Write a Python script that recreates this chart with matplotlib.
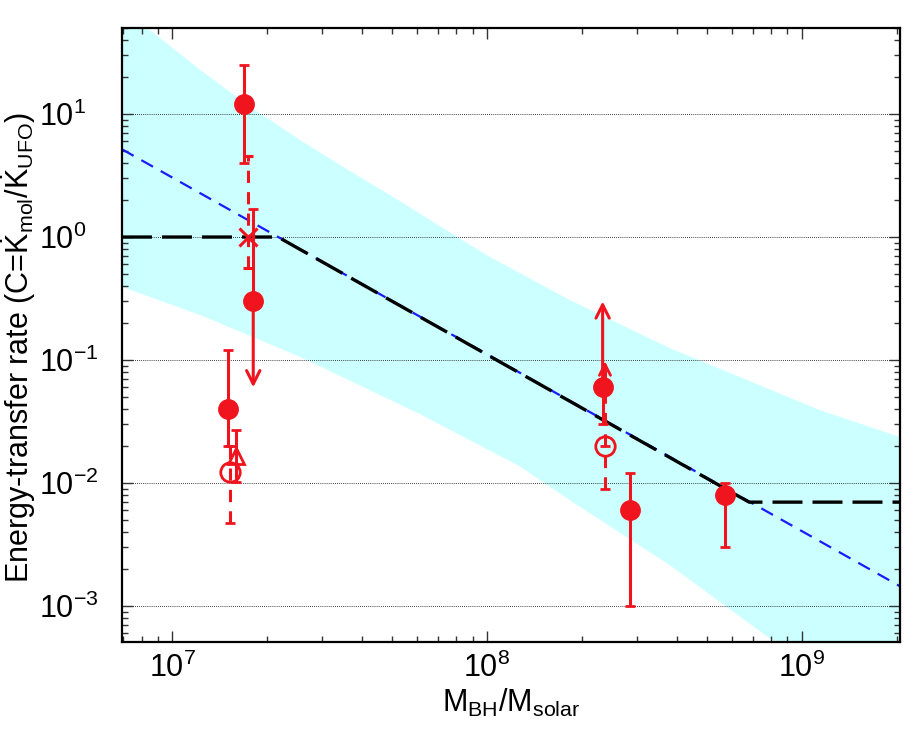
import matplotlib
matplotlib.use('Agg')
import matplotlib.pyplot as plt
from matplotlib.ticker import LogLocator, LogFormatterMathtext, NullFormatter

plt.rcParams['font.family'] = ['Liberation Sans', 'DejaVu Sans']
plt.rcParams['mathtext.fontset'] = 'custom'
plt.rcParams['mathtext.rm'] = 'Liberation Sans'
plt.rcParams['mathtext.it'] = 'Liberation Sans:italic'
plt.rcParams['mathtext.bf'] = 'Liberation Sans:bold'

RED = '#f0141e'
CYAN = '#ccffff'

# ---------------- data ----------------
# uncertainty band (upper / lower edges)
band_up_M = [6.3e6, 8.34e6, 1.23e7, 1.78e7, 2.55e7, 3.55e7, 5.0e7, 1.0e8, 1.83e8, 3.81e8, 1.14e9, 2.24e9]
band_up_C = [89.0, 50.0, 22.8, 11.3, 6.15, 3.62, 2.14, 0.71, 0.308, 0.125, 0.0392, 0.0219]
band_lo_M = [6.3e6, 1.23e7, 2.55e7, 6.12e7, 1.27e8, 1.83e8, 3.81e8, 8.2e8, 2.24e9]
band_lo_C = [0.43, 0.232, 0.106, 0.0364, 0.0137, 0.00728, 0.00215, 0.00051, 0.00005]

# power-law fit (blue) and model (black)
fit_M = [6.93e6, 2.05e9]
fit_C = [5.17, 0.00145]
model_M = [6.93e6, 2.17e7, 6.8e8, 2.05e9]
model_C = [1.0, 1.0, 0.007, 0.007]

# filled circles (solid error bars)
filled_M = [1.69e7, 1.81e7, 1.50e7, 2.33e8, 2.85e8, 5.7e8]
filled_C = [12.1, 0.30, 0.040, 0.060, 0.0060, 0.0080]
filled_lo = [4.0, 0.30, 0.020, 0.030, 0.0010, 0.0030]
filled_hi = [25.0, 1.70, 0.12, 0.060, 0.012, 0.010]

# open circles (dashed error bars)
open_M = [1.53e7, 2.37e8]
open_C = [0.0123, 0.020]
open_lo = [0.0047, 0.009]
open_hi = [0.020, 0.020]

# open triangle
tri_M = [1.60e7]
tri_C = [0.0167]
tri_lo = [0.0102]
tri_hi = [0.0268]

# cross (dashed error bar)
cross_M = [1.74e7]
cross_C = [1.0]
cross_lo = [0.56]
cross_hi = [4.6]

# limit arrows
lim_M = [1.81e7, 2.33e8, 2.37e8]
lim_from = [0.30, 0.060, 0.020]
lim_to = [0.060, 0.30, 0.098]
lim_dashed = [False, False, True]

x_ticks = [1e7, 1e8, 1e9]
y_ticks = [1e-3, 1e-2, 1e-1, 1e0, 1e1]

# ---------------- figure ----------------
fig = plt.figure(figsize=(9.24, 7.38), dpi=100)
ax = fig.add_axes([0.132, 0.130, 0.842, 0.832])
ax.set_xscale('log')
ax.set_yscale('log')
ax.set_xlim(6.93e6, 2.05e9)
ax.set_ylim(5.1e-4, 50)

# band
poly_x = list(band_up_M) + list(band_lo_M[::-1])
poly_y = list(band_up_C) + list(band_lo_C[::-1])
ax.fill(poly_x, poly_y, color=CYAN, lw=0, zorder=0)

# grid
for yt in y_ticks:
    ax.axhline(yt, color='black', lw=0.6, ls=(0, (1, 1.5)), zorder=1)

ax.plot(fit_M, fit_C, color='#1a1aff', lw=1.6, dashes=(6, 4), zorder=2)
ax.plot(model_M, model_C, color='black', lw=2.4, dashes=(9, 3), zorder=3)

def ebar(M, C, lo, hi, fmt, ms, mfc, dashed, mew=2.0):
    yerr = [[c - l for c, l in zip(C, lo)], [h - c for c, h in zip(C, hi)]]
    res = ax.errorbar(M, C, yerr=yerr, fmt=fmt, ms=ms, mfc=mfc, mec=RED,
                      mew=mew, color=RED, ecolor=RED, elinewidth=2.2,
                      capsize=3.6, capthick=2.2, zorder=5)
    if dashed:
        for lc in res[2]:
            lc.set_linestyle((0, (4, 3)))
    return res

ebar(filled_M, filled_C, filled_lo, filled_hi, 'o', 13, RED, False)
ebar(open_M, open_C, open_lo, open_hi, 'o', 14, 'none', True)
ebar(tri_M, tri_C, tri_lo, tri_hi, '^', 12, 'none', False)
ebar(cross_M, cross_C, cross_lo, cross_hi, 'x', 13, RED, True, mew=2.2)

for m, a, b, d in zip(lim_M, lim_from, lim_to, lim_dashed):
    if d:
        ax.plot([m, m], [a, b], color=RED, lw=2.2, ls=(0, (4, 3)), zorder=5)
        start = b * (0.75 if b > a else 1.33)
        ax.annotate('', xy=(m, b), xytext=(m, start),
                    arrowprops=dict(arrowstyle='->', lw=2.0, color=RED,
                                    mutation_scale=20, shrinkA=0, shrinkB=0),
                    zorder=6)
    else:
        ax.annotate('', xy=(m, b), xytext=(m, a),
                    arrowprops=dict(arrowstyle='->', lw=2.2, color=RED,
                                    mutation_scale=24, shrinkA=0, shrinkB=0),
                    zorder=6)

# ticks
ax.xaxis.set_minor_locator(LogLocator(base=10, subs=range(2, 10)))
ax.yaxis.set_minor_locator(LogLocator(base=10, subs=range(2, 10)))
ax.set_xticks(x_ticks)
ax.set_yticks(y_ticks)
ax.xaxis.set_major_formatter(LogFormatterMathtext())
ax.yaxis.set_major_formatter(LogFormatterMathtext())
ax.xaxis.set_minor_formatter(NullFormatter())
ax.yaxis.set_minor_formatter(NullFormatter())
ax.tick_params(which='both', direction='in', top=True, right=True, labelsize=22,
               width=1.0, color='#333333')
ax.tick_params(which='major', length=8)
ax.tick_params(which='minor', length=4.5)
ax.tick_params(axis='x', which='major', pad=8)
ax.tick_params(axis='y', which='major', pad=60)
for lbl in ax.get_yticklabels():
    lbl.set_horizontalalignment('left')
for s in ax.spines.values():
    s.set_linewidth(1.6)

ax.set_xlabel(r'M$_{\mathrm{BH}}$/M$_{\mathrm{solar}}$', fontsize=22, labelpad=2)
ax.set_ylabel(r'Energy-transfer rate (C=$\dot{\mathrm{K}}_{\mathrm{mol}}$/$\dot{\mathrm{K}}_{\mathrm{UFO}}$)',
              fontsize=22)
ax.yaxis.set_label_coords(-0.108, 0.48)

fig.savefig('out.png', dpi=100)
